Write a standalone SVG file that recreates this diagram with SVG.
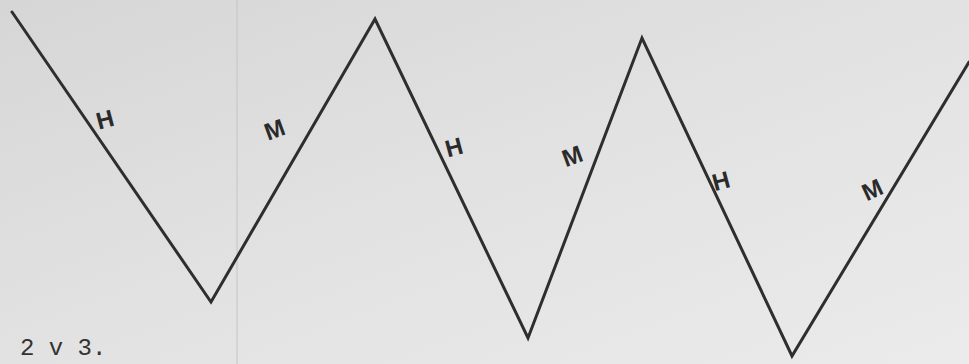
<svg xmlns="http://www.w3.org/2000/svg" width="969" height="364" viewBox="0 0 969 364">
  <defs>
    <linearGradient id="bg" x1="0" y1="0" x2="1" y2="1">
      <stop offset="0" stop-color="#d6d6d6"/>
      <stop offset="0.5" stop-color="#e2e2e2"/>
      <stop offset="1" stop-color="#ebebeb"/>
    </linearGradient>
    <style>
      .zig { fill: none; stroke: #2e2e2e; stroke-width: 3; stroke-linejoin: miter; stroke-linecap: round; }
      .lbl { font-family: "Liberation Sans", Arial, sans-serif; font-size: 24px; font-weight: bold; fill: #2a2a2a; }
      .cap { font-family: "Liberation Mono", "Courier New", monospace; font-size: 24px; fill: #333; }
    </style>
  </defs>
  <rect x="0" y="0" width="969" height="364" fill="url(#bg)"/>
  <line x1="237" y1="0" x2="237" y2="364" stroke="#c4c4c4" stroke-width="1"/>
  <g id="connectors">
    <polyline class="zig" points="12,12 211,302 375,19 528,338 642,38 792,356 969,62"/>
  </g>
  <g id="labels">
    <text class="lbl" x="96" y="128" transform="rotate(-15 104 118)">H</text>
    <text class="lbl" x="264" y="138" transform="rotate(-20 274 128)">M</text>
    <text class="lbl" x="445" y="156" transform="rotate(-15 452 146)">H</text>
    <text class="lbl" x="562" y="164" transform="rotate(-20 573 155)">M</text>
    <text class="lbl" x="712" y="190" transform="rotate(-15 718 180)">H</text>
    <text class="lbl" x="862" y="198" transform="rotate(-25 872 189)">M</text>
  </g>
  <text class="cap" x="20" y="355">2 v 3.</text>
</svg>
